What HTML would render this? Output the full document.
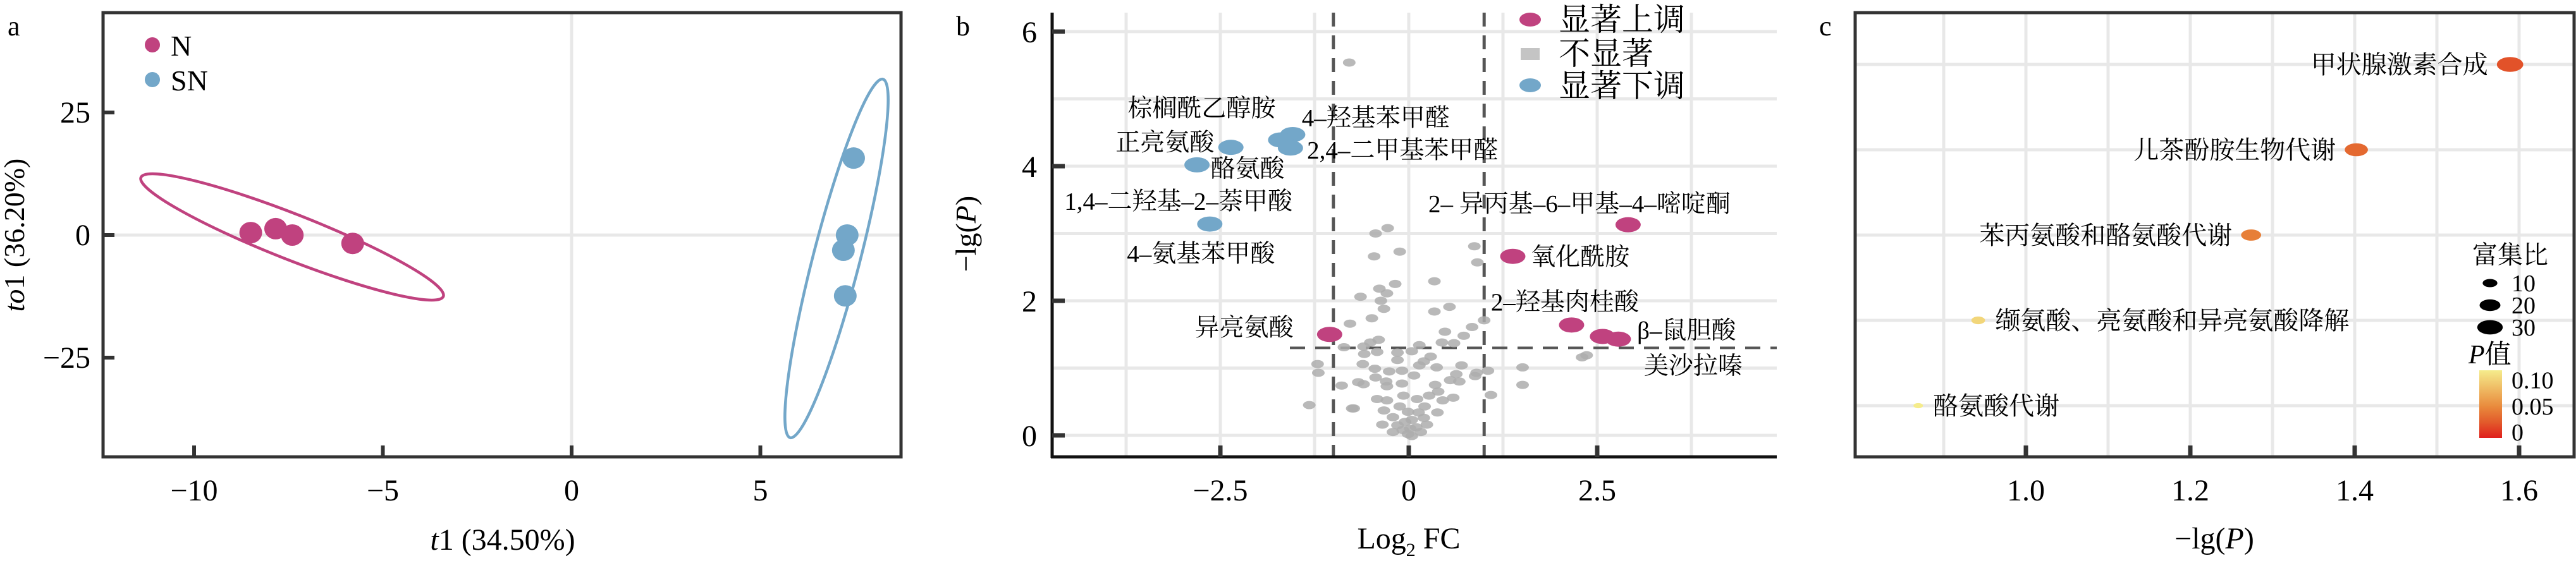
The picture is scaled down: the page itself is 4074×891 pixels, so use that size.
<!DOCTYPE html>
<html><head><meta charset="utf-8">
<style>
html,body{margin:0;padding:0;background:#fff;}
svg{display:block;font-family:"Liberation Serif","Noto Serif CJK SC",serif;}
</style></head>
<body>
<svg id="fig" width="4074" height="891" viewBox="0 0 4074 891" xmlns="http://www.w3.org/2000/svg">
<g id="pa"></g>
<g id="pb"></g>
<g id="pc"></g>
</svg>
<script>
// ---------- Panel a data ----------
const aGroupN_x = [-8.5, -7.84, -7.4, -5.8];
const aGroupN_y = [0.5, 1.3, 0.0, -1.7];
const aGroupSN_x = [7.47, 7.3, 7.2, 7.25];
const aGroupSN_y = [15.7, 0.0, -3.1, -12.4];
const aXTicks = [-10, -5, 0, 5];
const aYTicks = [25, 0, -25];
const aXTickLabels = ["−10", "−5", "0", "5"];
const aYTickLabels = ["25", "0", "−25"];

// ---------- Panel b data ----------
const bUp_x = [2.91, 1.38, 2.16, 2.57, 2.78, -1.05];
const bUp_y = [3.13, 2.66, 1.64, 1.47, 1.43, 1.50];
const bDown_x = [-1.54, -1.70, -1.57, -2.36, -2.81, -2.64];
const bDown_y = [4.47, 4.39, 4.27, 4.28, 4.02, 3.14];
const bNs_x = [-0.28,-0.44,-0.12,-0.46,0.87,0.91,0.34,-0.18,-0.39,-0.29,-0.64,-0.37,-0.33,0.54,0.34,-0.49,-0.78,1.00,0.84,0.48,0.73,0.44,0.60,0.14,-0.40,-0.51,-0.60,-0.86,0.04,-0.15,-0.59,-0.42,-0.15,0.29,0.20,-1.21,-1.20,-0.61,0.14,0.37,0.70,-0.45,1.05,1.51,1.51,0.90,0.88,0.63,0.55,0.67,-0.26,-0.09,0.07,-0.44,-0.30,-0.09,-0.67,-0.60,-0.89,-0.29,0.35,0.39,1.09,-1.32,-0.73,-0.42,-0.29,-0.07,0.11,0.27,0.45,0.59,-0.33,-0.12,0.21,0.38,0.13,-0.01,-0.21,0.04,0.20,-0.35,-0.15,0.24,0.10,-0.21,-0.01,0.04,-0.08,0.16,-0.79,2.36,2.30,-0.75,0.02,-0.05];
const bNs_y = [3.08,3.00,2.73,2.66,2.81,2.57,2.29,2.25,2.18,2.11,2.06,2.00,1.88,1.91,1.84,1.74,1.66,1.71,1.61,1.54,1.48,1.38,1.37,1.34,1.42,1.38,1.32,1.31,1.25,1.23,1.21,1.24,1.12,1.17,1.10,1.06,0.93,1.06,1.04,1.01,1.04,0.99,0.96,1.01,0.75,0.93,0.88,0.91,0.82,0.80,0.95,0.96,0.89,0.86,0.80,0.77,0.79,0.76,0.74,0.73,0.75,0.65,0.60,0.45,0.40,0.54,0.52,0.59,0.54,0.59,0.52,0.56,0.37,0.43,0.43,0.34,0.34,0.35,0.27,0.23,0.26,0.16,0.15,0.16,0.12,0.05,0.02,-0.01,0.08,0.05,5.54,1.19,1.16,0.40,0.10,0.20];
const bXTicks = [-2.5, 0, 2.5];
const bXTickLabels = ["−2.5", "0", "2.5"];
const bYTicks = [0, 2, 4, 6];
const bYTickLabels = ["0", "2", "4", "6"];
const bLabelText = ["棕榈酰乙醇胺","4–羟基苯甲醛","正亮氨酸","2,4–二甲基苯甲醛","酪氨酸","1,4–二羟基–2–萘甲酸","4–氨基苯甲酸","2– 异丙基–6–甲基–4–嘧啶酮","氧化酰胺","2–羟基肉桂酸","异亮氨酸","β–鼠胆酸","美沙拉嗪"];
const bLabel_x = [-3.73,-1.42,-3.89,-1.35,-2.63,-4.57,-3.74,0.26,1.62,1.09,-2.84,3.03,3.12];
const bLabel_y = [4.87,4.73,4.36,4.25,3.97,3.49,2.71,3.45,2.66,1.99,1.61,1.57,1.04];

// ---------- Panel c data ----------
const cPathways = ["甲状腺激素合成","儿茶酚胺生物代谢","苯丙氨酸和酪氨酸代谢","缬氨酸、亮氨酸和异亮氨酸降解","酪氨酸代谢"];
const cNegLogP = [1.589, 1.402, 1.274, 0.942, 0.869];
const cRatio = [26, 20, 15, 7, 3.3];
const cXTicks = [1.0, 1.2, 1.4, 1.6];
const cXTickLabels = ["1.0", "1.2", "1.4", "1.6"];
const cSizeLegend = [10, 20, 30];
const cPTicks = [0.10, 0.05, 0];
const cPTickLabels = ["0.10", "0.05", "0"];

const NS = "http://www.w3.org/2000/svg";
function mk(parent, tag, attrs, txt){
  const e = document.createElementNS(NS, tag);
  for (const k in attrs) e.setAttribute(k, attrs[k]);
  if (txt !== undefined) e.textContent = txt;
  parent.appendChild(e);
  return e;
}
const GRID = "#e8e8e8", AX = "#333";

// ================= PANEL A =================
(function(){
  const g = document.getElementById('pa');
  const L=163, R=1425, T=20, B=723;
  const sx = v => 904 + v*59.7;
  const sy = v => 372 - v*7.76;
  // grid
  let e = mk(g,'line',{x1:sx(0),x2:sx(0),y1:T,y2:B,stroke:GRID,'stroke-width':5});
   
  e = mk(g,'line',{x1:L,x2:R,y1:sy(0),y2:sy(0),stroke:GRID,'stroke-width':5});
   
  // ellipses
  e = mk(g,'ellipse',{cx:462,cy:375,rx:257,ry:36,transform:'rotate(21.5 462 375)',fill:'none',stroke:'#c0427f','stroke-width':4.5});
   
  e = mk(g,'ellipse',{cx:1323,cy:409,rx:293,ry:37,transform:'rotate(-75.5 1323 409)',fill:'none',stroke:'#73a7c9','stroke-width':4.5});
   
  // points
  aGroupN_x.forEach((v,i)=>{
    const p = mk(g,'ellipse',{cx:sx(v),cy:sy(aGroupN_y[i]),rx:18,ry:17,fill:'#c0427f'});
    
    
  });
  aGroupSN_x.forEach((v,i)=>{
    const p = mk(g,'ellipse',{cx:sx(v),cy:sy(aGroupSN_y[i]),rx:18,ry:17,fill:'#73a7c9'});
    
    
  });
  // frame
  e = mk(g,'rect',{x:L,y:T,width:R-L,height:B-T,fill:'none',stroke:AX,'stroke-width':5});
   
  // ticks
  aXTicks.forEach((v,i)=>{
    const t = mk(g,'line',{x1:sx(v),x2:sx(v),y1:B,y2:B-18,stroke:AX,'stroke-width':6});
     
    const l = mk(g,'text',{x:sx(v),y:792,'font-size':48,'text-anchor':'middle'},aXTickLabels[i]);
     
  });
  aYTicks.forEach((v,i)=>{
    const t = mk(g,'line',{x1:L,x2:L+18,y1:sy(v),y2:sy(v),stroke:AX,'stroke-width':6});
     
    const l = mk(g,'text',{x:143,y:sy(v)+16,'font-size':48,'text-anchor':'end'},aYTickLabels[i]);
     
  });
})();
</script>
<!-- static text panel a -->
<g></g>
<script>
(function(){
  const g = document.getElementById('pa');
  let e;
  e = mk(g,'text',{x:12,y:56,'font-size':44},'a');  
  e = mk(g,'ellipse',{cx:241,cy:71,rx:12,ry:12,fill:'#c0427f'});  
  e = mk(g,'text',{x:270,y:88,'font-size':46},'N');  
  e = mk(g,'ellipse',{cx:241,cy:126,rx:12,ry:12,fill:'#73a7c9'});  
  e = mk(g,'text',{x:270,y:143,'font-size':46},'SN');  
  e = mk(g,'text',{x:795,y:870,'font-size':48,'text-anchor':'middle'});
   
  e.innerHTML = '<tspan font-style="italic">t</tspan>1 (34.50%)';
  e = mk(g,'text',{x:0,y:0,'font-size':46,'text-anchor':'middle',transform:'translate(38 372) rotate(-90)'});
   
  e.innerHTML = '<tspan font-style="italic">to</tspan>1 (36.20%)';
})();

// ================= PANEL B =================
(function(){
  const g = document.getElementById('pb');
  const L=1664, R=2810, T=20, B=723;
  const sx = v => 2228 + v*119.2;
  const sy = v => 689 - v*106.5;
  let e;
  // grid
  [-3.75,-2.5,-1.25,0,1.25,2.5,3.75].forEach(v=>{
    e = mk(g,'line',{x1:sx(v),x2:sx(v),y1:T,y2:B,stroke:GRID,'stroke-width':5});
     
  });
  [0,1,2,3,4,5,6].forEach(v=>{
    e = mk(g,'line',{x1:L,x2:R,y1:sy(v),y2:sy(v),stroke:GRID,'stroke-width':5});
     
  });
  // threshold lines
  [-1,1].forEach(v=>{
    e = mk(g,'line',{x1:sx(v),x2:sx(v),y1:T,y2:B,stroke:'#555','stroke-width':5,'stroke-dasharray':'22 14'});
     
  });
  e = mk(g,'line',{x1:2040,x2:R,y1:sy(1.3),y2:sy(1.3),stroke:'#555','stroke-width':4,'stroke-dasharray':'24 16'});
   
  // points
  bNs_x.forEach((v,i)=>{
    const p = mk(g,'ellipse',{cx:sx(v),cy:sy(bNs_y[i]),rx:10,ry:6.5,fill:'#adadad','fill-opacity':0.85});
    
    
  });
  bUp_x.forEach((v,i)=>{
    const p = mk(g,'ellipse',{cx:sx(v),cy:sy(bUp_y[i]),rx:20,ry:12,fill:'#c0427f'});
    
    
  });
  bDown_x.forEach((v,i)=>{
    const p = mk(g,'ellipse',{cx:sx(v),cy:sy(bDown_y[i]),rx:20,ry:12,fill:'#73a7c9'});
    
    
  });
  // labels
  bLabelText.forEach((s,i)=>{
    const t = mk(g,'text',{x:sx(bLabel_x[i]),y:sy(bLabel_y[i])+14,'font-size':39},s);
    
    
  });
  // axes
  e = mk(g,'line',{x1:L,x2:L,y1:T,y2:B+2,stroke:'#111','stroke-width':5});  
  e = mk(g,'line',{x1:L-2,x2:R,y1:B,y2:B,stroke:'#111','stroke-width':5});  
  bXTicks.forEach((v,i)=>{
    const t = mk(g,'line',{x1:sx(v),x2:sx(v),y1:B,y2:B-18,stroke:AX,'stroke-width':7});
     
    const l = mk(g,'text',{x:sx(v),y:792,'font-size':48,'text-anchor':'middle'},bXTickLabels[i]);
     
  });
  bYTicks.forEach((v,i)=>{
    const t = mk(g,'line',{x1:L,x2:L+20,y1:sy(v),y2:sy(v),stroke:AX,'stroke-width':7});
     
    const l = mk(g,'text',{x:1640,y:sy(v)+17,'font-size':48,'text-anchor':'end'},bYTickLabels[i]);
     
  });
  // legend
  e = mk(g,'ellipse',{cx:2420,cy:31,rx:17,ry:11,fill:'#c0427f'});  
  e = mk(g,'text',{x:2465,y:48,'font-size':50},'显著上调');  
  e = mk(g,'rect',{x:2405,y:76,width:30,height:19,fill:'#c4c4c4'});  
  e = mk(g,'text',{x:2465,y:102,'font-size':50},'不显著');  
  e = mk(g,'ellipse',{cx:2420,cy:135,rx:17,ry:11,fill:'#73a7c9'});  
  e = mk(g,'text',{x:2465,y:153,'font-size':50},'显著下调');  
  // titles
  e = mk(g,'text',{x:1512,y:56,'font-size':44},'b');  
  e = mk(g,'text',{x:0,y:0,'font-size':46,'text-anchor':'middle',transform:'translate(1543 370) rotate(-90)'});
   
  e.innerHTML = '−lg(<tspan font-style="italic">P</tspan>)';
  e = mk(g,'text',{x:2228,y:868,'font-size':48,'text-anchor':'middle'});
   
  e.innerHTML = 'Log<tspan font-size="30" dy="12">2</tspan><tspan dy="-12"> FC</tspan>';
})();

// ================= PANEL C =================
(function(){
  const g = document.getElementById('pc');
  const L=2934, R=4071, T=20, B=723;
  const sx = v => 3204 + (v-1.0)*1300;
  const sy = i => 102 + i*135;
  const stops = [[0,[224,31,28]],[0.03,[226,90,43]],[0.06,[233,138,60]],[0.13,[245,236,140]]];
  function pcol(p){
    if (p<=stops[0][0]) return 'rgb('+stops[0][1]+')';
    for (let k=1;k<stops.length;k++){
      if (p<=stops[k][0]){
        const a=stops[k-1], b=stops[k], t=(p-a[0])/(b[0]-a[0]);
        return 'rgb('+a[1].map((c,j)=>Math.round(c+(b[1][j]-c)*t)).join(',')+')';
      }
    }
    return 'rgb('+stops[stops.length-1][1]+')';
  }
  const rxOf = r => 4.1*Math.sqrt(r);
  let e;
  [0.9,1.0,1.1,1.2,1.3,1.4,1.5,1.6].forEach(v=>{
    e = mk(g,'line',{x1:sx(v),x2:sx(v),y1:T,y2:B,stroke:GRID,'stroke-width':5});
     
  });
  cPathways.forEach((s,i)=>{
    e = mk(g,'line',{x1:L,x2:R,y1:sy(i),y2:sy(i),stroke:GRID,'stroke-width':5});
     
  });
  cPathways.forEach((s,i)=>{
    const x = sx(cNegLogP[i]), rx = rxOf(cRatio[i]);
    const p = mk(g,'ellipse',{cx:x,cy:sy(i),rx:rx,ry:rx*0.56,fill:pcol(Math.pow(10,-cNegLogP[i]))});
    
    
    const left = i<3;
    const t = mk(g,'text',{x: left ? x-rx-14 : x+rx+16, y:sy(i)+14,'font-size':40,'text-anchor': left?'end':'start'},s);
    
    
  });
  e = mk(g,'rect',{x:L,y:T,width:R-L,height:B-T,fill:'none',stroke:AX,'stroke-width':5});
   
  cXTicks.forEach((v,i)=>{
    const t = mk(g,'line',{x1:sx(v),x2:sx(v),y1:B,y2:B-18,stroke:AX,'stroke-width':7});
     
    const l = mk(g,'text',{x:sx(v),y:792,'font-size':48,'text-anchor':'middle'},cXTickLabels[i]);
     
  });
  // size legend
  e = mk(g,'text',{x:3910,y:417,'font-size':40},'富集比');  
  cSizeLegend.forEach((v,i)=>{
    const y = 448 + i*35, rx = rxOf(v)*0.9;
    const p = mk(g,'ellipse',{cx:3938,cy:y,rx:rx,ry:rx*0.56,fill:'#000'});
    
    
    const t = mk(g,'text',{x:3972,y:y+13,'font-size':38},String(v));
    
    
  });
  e = mk(g,'text',{x:3904,y:575,'font-size':42});
   
  e.innerHTML = '<tspan font-style="italic">P</tspan>值';
  const defs = mk(g,'defs',{});
  const lg = mk(defs,'linearGradient',{id:'pgrad',x1:0,y1:1,x2:0,y2:0});
  stops.forEach(s=>mk(lg,'stop',{offset:(s[0]/0.13),'stop-color':'rgb('+s[1]+')'}));
  const cbTop=586, cbBot=693, pmax=0.13;
  e = mk(g,'rect',{x:3921,y:cbTop,width:36,height:cbBot-cbTop,fill:'url(#pgrad)'});
   
  cPTicks.forEach((v,i)=>{
    const y = cbBot - (v/pmax)*(cbBot-cbTop) - 10;
    const t = mk(g,'text',{x:3972,y:y+14,'font-size':38},cPTickLabels[i]);
    
    
  });
  e = mk(g,'text',{x:2877,y:56,'font-size':44},'c');  
  e = mk(g,'text',{x:3502,y:868,'font-size':48,'text-anchor':'middle'});
   
  e.innerHTML = '−lg(<tspan font-style="italic">P</tspan>)';
})();
</script>
</body></html>
